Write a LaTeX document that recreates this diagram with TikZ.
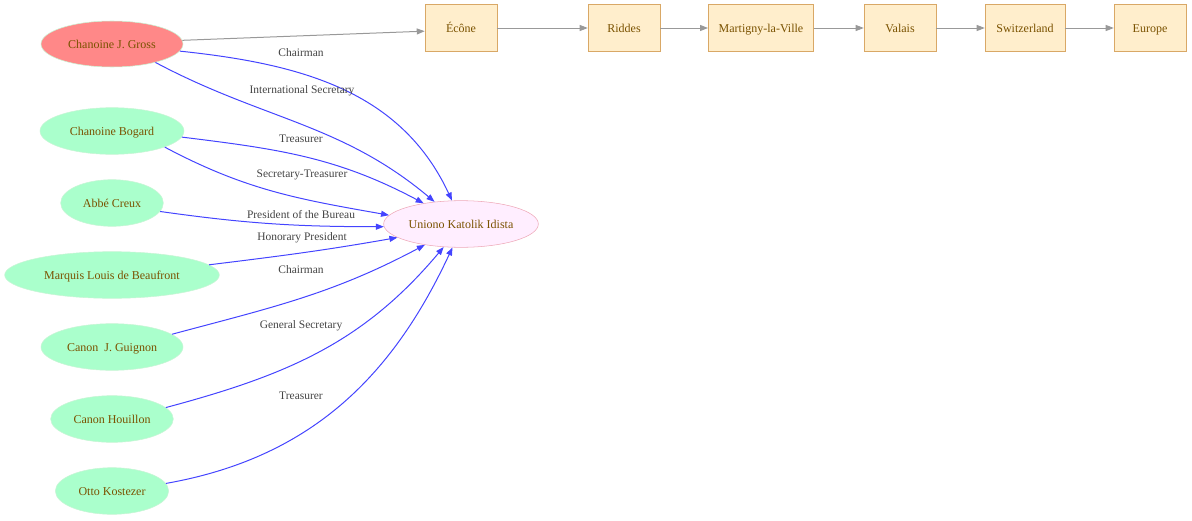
\documentclass[tikz,border=0pt]{standalone}
\usepackage{fontspec}
\setmainfont{Liberation Serif}
\usetikzlibrary{arrows.meta,shapes.geometric}
\definecolor{namebrown}{HTML}{7A5200}
\definecolor{labelgrey}{HTML}{444444}
\definecolor{persongreen}{HTML}{AAFFCC}
\definecolor{personline}{HTML}{C8F5D5}
\definecolor{chairred}{HTML}{FF8888}
\definecolor{unionfill}{HTML}{FFEEFF}
\definecolor{unionline}{HTML}{EEA8B8}
\definecolor{placefill}{HTML}{FFEECC}
\definecolor{placeline}{HTML}{D9A866}
\definecolor{roleblue}{HTML}{4444FF}
\definecolor{linkgrey}{HTML}{999999}
\begin{document}
\begin{tikzpicture}[x=0.75pt,y=-0.75pt,
	person/.style={ellipse, draw=personline, fill=persongreen, text=namebrown,
		inner sep=0pt, minimum height=35pt, text height=7.5pt, text depth=1.5pt,
		font=\fontsize{9}{10}\selectfont},
	place/.style={rectangle, draw=placeline, fill=placefill, text=namebrown,
		inner sep=0pt, minimum width=54pt, minimum height=35pt, text height=7.5pt, text depth=1.5pt,
		font=\fontsize{9}{10}\selectfont},
	role/.style={draw=roleblue, line width=0.75pt, -{Triangle[length=6pt,width=4.5pt]}},
	link/.style={draw=linkgrey, line width=0.75pt, -{Triangle[length=6pt,width=4.5pt]}},
	lbl/.style={text=labelgrey, inner sep=0pt, font=\fontsize{8.6}{9}\selectfont}]
	\useasboundingbox (0,0) rectangle (1192,521);

	% Members
	\node[person, fill=chairred, minimum width=106.5pt, minimum height=34.5pt] (gross) at (112,44) {Chanoine J. Gross};
	\node[person, minimum width=108pt] (bogard) at (112,131) {Chanoine Bogard};
	\node[person, minimum width=77pt] (creux) at (112,203) {Abbé Creux};
	\node[person, minimum width=161pt] (beaufront) at (112,275) {Marquis Louis de Beaufront};
	\node[person, minimum width=106.5pt] (guignon) at (112,347) {Canon~ J. Guignon};
	\node[person, minimum width=92pt] (houillon) at (112,419) {Canon Houillon};
	\node[person, minimum width=85pt] (kostezer) at (112,491) {Otto Kostezer};

	% Union
	\node[person, draw=unionline, fill=unionfill, minimum width=116pt] (uki) at (461,224) {Uniono Katolik Idista};

	% Places
	\node[place] (econe) at (461,28) {Écône};
	\node[place] (riddes) at (624,28) {Riddes};
	\node[place, minimum width=79pt] (martigny) at (761,28) {Martigny-la-Ville};
	\node[place] (valais) at (900,28) {Valais};
	\node[place, minimum width=60pt] (switzerland) at (1025,28) {Switzerland};
	\node[place] (europe) at (1150,28) {Europe};

	% Location chain
	\draw[link] (gross.3) -- (econe.185);
	\draw[link] (econe) -- (riddes);
	\draw[link] (riddes) -- (martigny);
	\draw[link] (martigny) -- (valais);
	\draw[link] (valais) -- (switzerland);
	\draw[link] (switzerland) -- (europe);

	% Roles
	\draw[role] (gross.-6) to[out=-6, in=115] (uki.111);
	\draw[role] (gross.-23) to[out=-28, in=140] (uki.140);
	\draw[role] (bogard.-5) to[out=-7, in=152] (uki.151);
	\draw[role] (bogard.-17) to[out=-28, in=170] (uki.173);
	\draw[role] (creux.-10) to[out=-8, in=180] (uki.182);
	\draw[role] (beaufront.6) to[out=7, in=190] (uki.192);
	\draw[role] (guignon.12) to[out=15, in=208] (uki.210);
	\draw[role] (houillon.12) to[out=15, in=230] (uki.233);
	\draw[role] (kostezer.8) to[out=10, in=245] (uki.250);

	% Role labels
	\node[lbl] (l1) at (301,53) {Chairman};
	\node[lbl] (l2) at (302,91) {International Secretary};
	\node[lbl] (l3) at (301,139) {Treasurer};
	\node[lbl] (l4) at (302,175) {Secretary-Treasurer};
	\node[lbl] (l5) at (301,215) {President of the Bureau};
	\node[lbl] (l6) at (302,238) {Honorary President};
	\node[lbl] (l7) at (301,270) {Chairman};
	\node[lbl] (l8) at (301,326) {General Secretary};
	\node[lbl] (l9) at (301,396) {Treasurer};

\end{tikzpicture}
\end{document}
